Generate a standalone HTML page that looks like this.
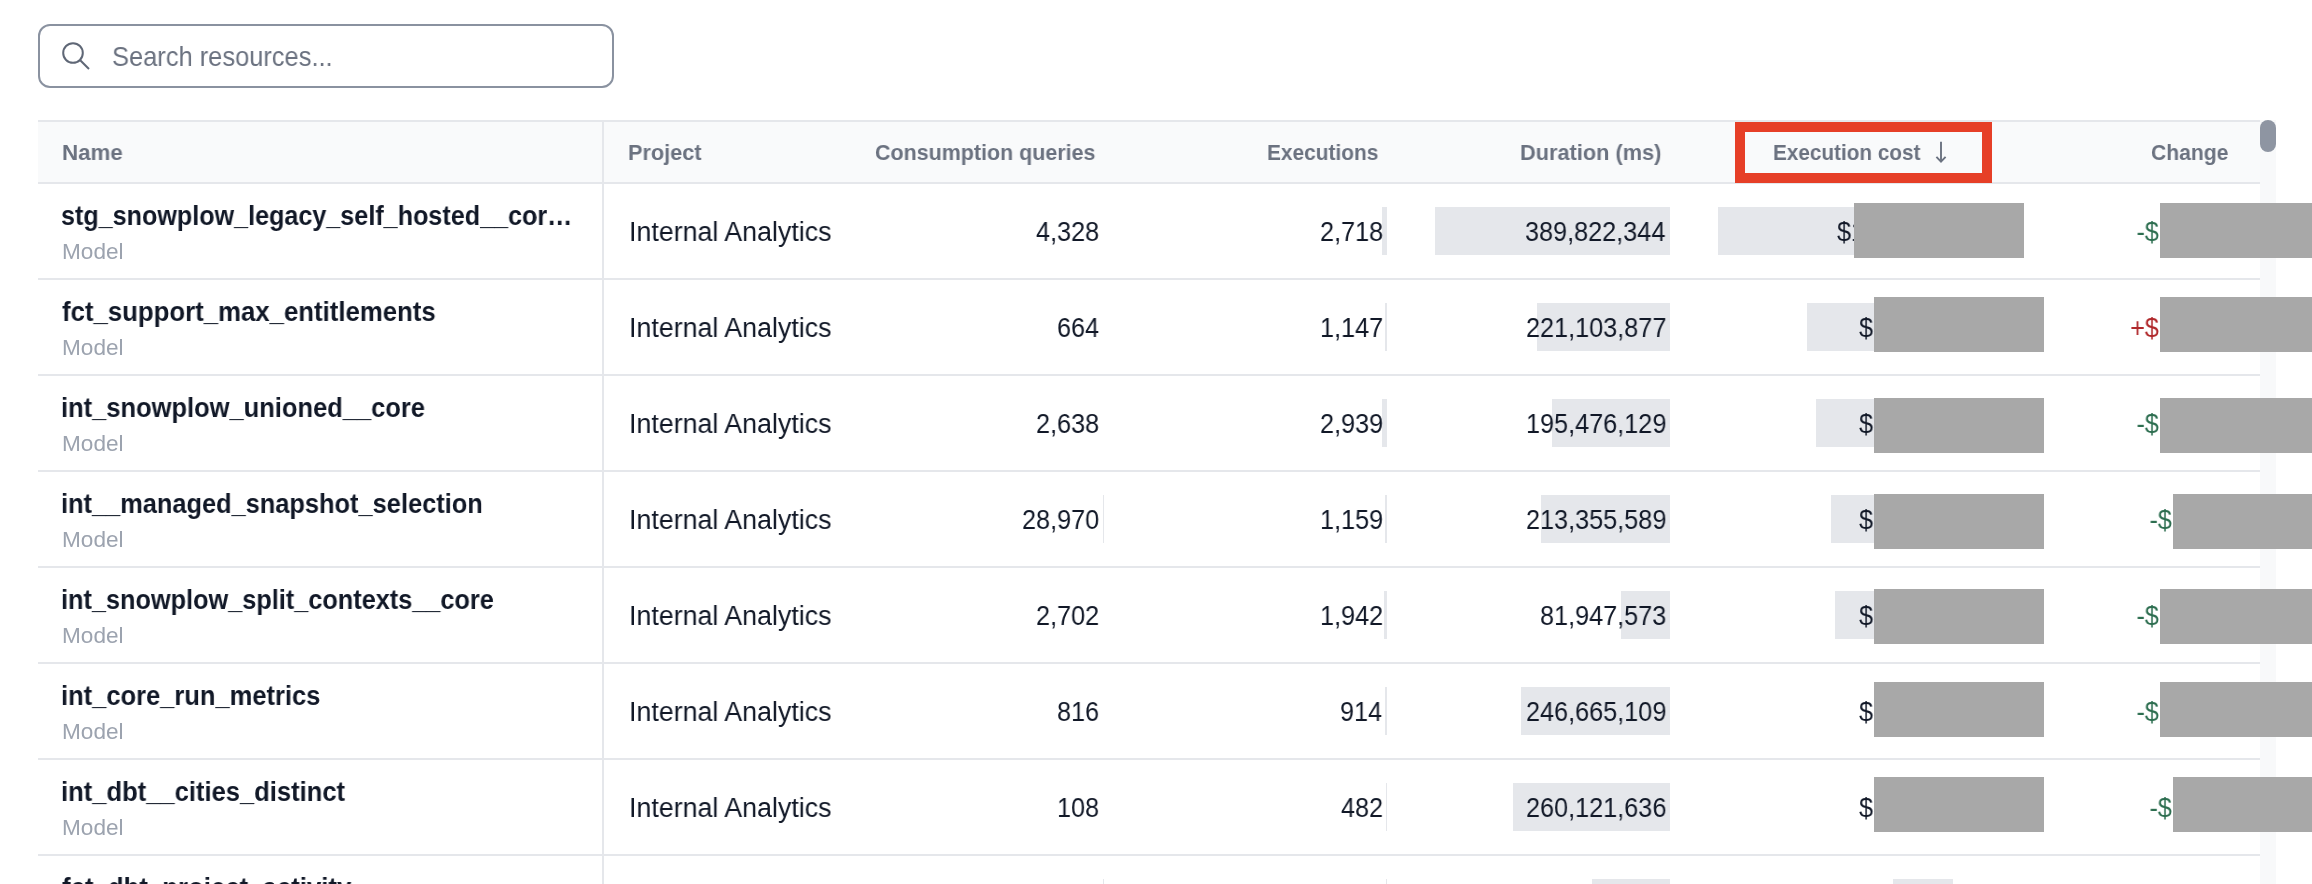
<!DOCTYPE html>
<html><head><meta charset="utf-8"><style>
html,body{margin:0;padding:0;}
body{width:2312px;height:884px;overflow:hidden;position:relative;background:#fff;font-family:"Liberation Sans",sans-serif;}
.t{position:absolute;white-space:nowrap;will-change:transform;}
.r{position:absolute;}
</style></head><body>
<div class="r" style="left:38px;top:24px;width:572px;height:60px;border:2px solid #8a92a0;border-radius:12px;background:#fff"></div>
<svg class="r" style="left:0;top:0" width="200" height="100"><circle cx="73" cy="53" r="9.8" fill="none" stroke="#5f6776" stroke-width="2"/><line x1="80.2" y1="60.2" x2="89" y2="69" stroke="#5f6776" stroke-width="2"/></svg>
<div class="r" style="left:38px;top:120px;width:2222px;height:64px;background:#f9fafb;"></div>
<div class="r" style="left:38px;top:120px;width:2222px;height:2px;background:#e5e7eb;"></div>
<div class="r" style="left:38px;top:182px;width:2222px;height:2px;background:#e5e7eb;"></div>
<div class="r" style="left:38px;top:278px;width:2222px;height:2px;background:#e5e7eb;"></div>
<div class="r" style="left:1435px;top:207px;width:235px;height:48px;background:#e5e7eb;"></div>
<div class="r" style="left:1718px;top:207px;width:235px;height:48px;background:#e5e7eb;"></div>
<div class="r" style="left:1382px;top:207px;width:5px;height:48px;background:#e5e7eb;"></div>
<div class="r" style="left:38px;top:374px;width:2222px;height:2px;background:#e5e7eb;"></div>
<div class="r" style="left:1537px;top:303px;width:133px;height:48px;background:#e5e7eb;"></div>
<div class="r" style="left:1807px;top:303px;width:146px;height:48px;background:#e5e7eb;"></div>
<div class="r" style="left:1385px;top:303px;width:2px;height:48px;background:#e5e7eb;"></div>
<div class="r" style="left:38px;top:470px;width:2222px;height:2px;background:#e5e7eb;"></div>
<div class="r" style="left:1552px;top:399px;width:118px;height:48px;background:#e5e7eb;"></div>
<div class="r" style="left:1816px;top:399px;width:137px;height:48px;background:#e5e7eb;"></div>
<div class="r" style="left:1382px;top:399px;width:5px;height:48px;background:#e5e7eb;"></div>
<div class="r" style="left:38px;top:566px;width:2222px;height:2px;background:#e5e7eb;"></div>
<div class="r" style="left:1541px;top:495px;width:129px;height:48px;background:#e5e7eb;"></div>
<div class="r" style="left:1831px;top:495px;width:122px;height:48px;background:#e5e7eb;"></div>
<div class="r" style="left:1385px;top:495px;width:2px;height:48px;background:#e5e7eb;"></div>
<div class="r" style="left:1103px;top:495px;width:1px;height:48px;background:#e5e7eb;"></div>
<div class="r" style="left:38px;top:662px;width:2222px;height:2px;background:#e5e7eb;"></div>
<div class="r" style="left:1621px;top:591px;width:49px;height:48px;background:#e5e7eb;"></div>
<div class="r" style="left:1835px;top:591px;width:118px;height:48px;background:#e5e7eb;"></div>
<div class="r" style="left:1384px;top:591px;width:3px;height:48px;background:#e5e7eb;"></div>
<div class="r" style="left:38px;top:758px;width:2222px;height:2px;background:#e5e7eb;"></div>
<div class="r" style="left:1521px;top:687px;width:149px;height:48px;background:#e5e7eb;"></div>
<div class="r" style="left:1893px;top:687px;width:60px;height:48px;background:#e5e7eb;"></div>
<div class="r" style="left:1385px;top:687px;width:2px;height:48px;background:#e5e7eb;"></div>
<div class="r" style="left:38px;top:854px;width:2222px;height:2px;background:#e5e7eb;"></div>
<div class="r" style="left:1513px;top:783px;width:157px;height:48px;background:#e5e7eb;"></div>
<div class="r" style="left:1893px;top:783px;width:60px;height:48px;background:#e5e7eb;"></div>
<div class="r" style="left:1386px;top:783px;width:1px;height:48px;background:#e5e7eb;"></div>
<div class="r" style="left:38px;top:950px;width:2222px;height:2px;background:#e5e7eb;"></div>
<div class="r" style="left:1592px;top:879px;width:78px;height:48px;background:#e5e7eb;"></div>
<div class="r" style="left:1893px;top:879px;width:60px;height:48px;background:#e5e7eb;"></div>
<div class="r" style="left:1386px;top:879px;width:1px;height:48px;background:#e5e7eb;"></div>
<div class="r" style="left:1103px;top:879px;width:1px;height:48px;background:#e5e7eb;"></div>
<div class="r" style="left:602px;top:120px;width:2px;height:764px;background:#e5e7eb;"></div>
<div class="r" style="left:2260px;top:120px;width:16px;height:764px;background:#f8f9fa;"></div>
<div class="r" style="left:2260px;top:120px;width:16px;height:32px;border-radius:8px;background:#8e95a2"></div>
<svg class="r" style="left:1930px;top:140px" width="24" height="26"><line x1="11" y1="1.8" x2="11" y2="21.6" stroke="#6b7280" stroke-width="1.9"/><polyline points="6.4,16.8 11,21.6 15.6,16.8" fill="none" stroke="#6b7280" stroke-width="1.9"/></svg>
<div class="t" id="t0" style="top:42.79px;font-size:28px;line-height:28px;color:#6b7280;left:111.71px;transform:scaleX(0.9088);transform-origin:0 0;">Search resources...</div>
<div class="t" id="t1" style="top:141.65px;font-size:22.5px;line-height:22.5px;color:#6b7280;font-weight:700;left:62.21px;transform:scaleX(0.9915);transform-origin:0 0;">Name</div>
<div class="t" id="t2" style="top:141.65px;font-size:22.5px;line-height:22.5px;color:#6b7280;font-weight:700;left:628.24px;transform:scaleX(0.9640);transform-origin:0 0;">Project</div>
<div class="t" id="t3" style="top:141.65px;font-size:22.5px;line-height:22.5px;color:#6b7280;font-weight:700;left:875.05px;transform:scaleX(0.9530);transform-origin:0 0;">Consumption queries</div>
<div class="t" id="t4" style="top:141.65px;font-size:22.5px;line-height:22.5px;color:#6b7280;font-weight:700;left:1267.11px;transform:scaleX(0.9280);transform-origin:0 0;">Executions</div>
<div class="t" id="t5" style="top:141.65px;font-size:22.5px;line-height:22.5px;color:#6b7280;font-weight:700;left:1520.05px;transform:scaleX(0.9667);transform-origin:0 0;">Duration (ms)</div>
<div class="t" id="t6" style="top:141.65px;font-size:22.5px;line-height:22.5px;color:#6b7280;font-weight:700;left:1772.69px;transform:scaleX(0.9214);transform-origin:0 0;">Execution cost</div>
<div class="t" id="t7" style="top:141.65px;font-size:22.5px;line-height:22.5px;color:#6b7280;font-weight:700;left:2151.03px;transform:scaleX(0.9383);transform-origin:0 0;">Change</div>
<div class="t" id="t8" style="top:202.84px;font-size:27px;line-height:27px;color:#111827;font-weight:700;left:61.48px;transform:scaleX(0.9308);transform-origin:0 0;">stg_snowplow_legacy_self_hosted__cor…</div>
<div class="t" id="t9" style="top:241.05px;font-size:22.5px;line-height:22.5px;color:#9ca3af;left:62.19px;transform:scaleX(1.0051);transform-origin:0 0;">Model</div>
<div class="t" id="t10" style="top:219.04px;font-size:27px;line-height:27px;color:#111827;left:628.61px;transform:scaleX(0.9926);transform-origin:0 0;">Internal Analytics</div>
<div class="t" id="t11" style="top:219.04px;font-size:27px;line-height:27px;color:#111827;left:1035.98px;transform:scaleX(0.9350);transform-origin:0 0;">4,328</div>
<div class="t" id="t12" style="top:219.04px;font-size:27px;line-height:27px;color:#111827;left:1319.75px;transform:scaleX(0.9350);transform-origin:0 0;">2,718</div>
<div class="t" id="t13" style="top:219.04px;font-size:27px;line-height:27px;color:#111827;left:1524.60px;transform:scaleX(0.9350);transform-origin:0 0;">389,822,344</div>
<div class="t" id="t14" style="top:298.84px;font-size:27px;line-height:27px;color:#111827;font-weight:700;left:62.40px;transform:scaleX(0.9545);transform-origin:0 0;">fct_support_max_entitlements</div>
<div class="t" id="t15" style="top:337.05px;font-size:22.5px;line-height:22.5px;color:#9ca3af;left:62.19px;transform:scaleX(1.0051);transform-origin:0 0;">Model</div>
<div class="t" id="t16" style="top:315.04px;font-size:27px;line-height:27px;color:#111827;left:628.61px;transform:scaleX(0.9926);transform-origin:0 0;">Internal Analytics</div>
<div class="t" id="t17" style="top:315.04px;font-size:27px;line-height:27px;color:#111827;left:1057.04px;transform:scaleX(0.9350);transform-origin:0 0;">664</div>
<div class="t" id="t18" style="top:315.04px;font-size:27px;line-height:27px;color:#111827;left:1319.75px;transform:scaleX(0.9350);transform-origin:0 0;">1,147</div>
<div class="t" id="t19" style="top:315.04px;font-size:27px;line-height:27px;color:#111827;left:1525.54px;transform:scaleX(0.9350);transform-origin:0 0;">221,103,877</div>
<div class="t" id="t20" style="top:394.84px;font-size:27px;line-height:27px;color:#111827;font-weight:700;left:61.46px;transform:scaleX(0.9440);transform-origin:0 0;">int_snowplow_unioned__core</div>
<div class="t" id="t21" style="top:433.05px;font-size:22.5px;line-height:22.5px;color:#9ca3af;left:62.19px;transform:scaleX(1.0051);transform-origin:0 0;">Model</div>
<div class="t" id="t22" style="top:411.04px;font-size:27px;line-height:27px;color:#111827;left:628.61px;transform:scaleX(0.9926);transform-origin:0 0;">Internal Analytics</div>
<div class="t" id="t23" style="top:411.04px;font-size:27px;line-height:27px;color:#111827;left:1035.98px;transform:scaleX(0.9350);transform-origin:0 0;">2,638</div>
<div class="t" id="t24" style="top:411.04px;font-size:27px;line-height:27px;color:#111827;left:1319.75px;transform:scaleX(0.9350);transform-origin:0 0;">2,939</div>
<div class="t" id="t25" style="top:411.04px;font-size:27px;line-height:27px;color:#111827;left:1525.54px;transform:scaleX(0.9350);transform-origin:0 0;">195,476,129</div>
<div class="t" id="t26" style="top:490.84px;font-size:27px;line-height:27px;color:#111827;font-weight:700;left:61.47px;transform:scaleX(0.9399);transform-origin:0 0;">int__managed_snapshot_selection</div>
<div class="t" id="t27" style="top:529.05px;font-size:22.5px;line-height:22.5px;color:#9ca3af;left:62.19px;transform:scaleX(1.0051);transform-origin:0 0;">Model</div>
<div class="t" id="t28" style="top:507.04px;font-size:27px;line-height:27px;color:#111827;left:628.61px;transform:scaleX(0.9926);transform-origin:0 0;">Internal Analytics</div>
<div class="t" id="t29" style="top:507.04px;font-size:27px;line-height:27px;color:#111827;left:1021.94px;transform:scaleX(0.9350);transform-origin:0 0;">28,970</div>
<div class="t" id="t30" style="top:507.04px;font-size:27px;line-height:27px;color:#111827;left:1319.75px;transform:scaleX(0.9350);transform-origin:0 0;">1,159</div>
<div class="t" id="t31" style="top:507.04px;font-size:27px;line-height:27px;color:#111827;left:1525.54px;transform:scaleX(0.9350);transform-origin:0 0;">213,355,589</div>
<div class="t" id="t32" style="top:586.84px;font-size:27px;line-height:27px;color:#111827;font-weight:700;left:61.47px;transform:scaleX(0.9367);transform-origin:0 0;">int_snowplow_split_contexts__core</div>
<div class="t" id="t33" style="top:625.05px;font-size:22.5px;line-height:22.5px;color:#9ca3af;left:62.19px;transform:scaleX(1.0051);transform-origin:0 0;">Model</div>
<div class="t" id="t34" style="top:603.04px;font-size:27px;line-height:27px;color:#111827;left:628.61px;transform:scaleX(0.9926);transform-origin:0 0;">Internal Analytics</div>
<div class="t" id="t35" style="top:603.04px;font-size:27px;line-height:27px;color:#111827;left:1035.98px;transform:scaleX(0.9350);transform-origin:0 0;">2,702</div>
<div class="t" id="t36" style="top:603.04px;font-size:27px;line-height:27px;color:#111827;left:1319.75px;transform:scaleX(0.9350);transform-origin:0 0;">1,942</div>
<div class="t" id="t37" style="top:603.04px;font-size:27px;line-height:27px;color:#111827;left:1539.58px;transform:scaleX(0.9350);transform-origin:0 0;">81,947,573</div>
<div class="t" id="t38" style="top:682.84px;font-size:27px;line-height:27px;color:#111827;font-weight:700;left:61.46px;transform:scaleX(0.9447);transform-origin:0 0;">int_core_run_metrics</div>
<div class="t" id="t39" style="top:721.05px;font-size:22.5px;line-height:22.5px;color:#9ca3af;left:62.19px;transform:scaleX(1.0051);transform-origin:0 0;">Model</div>
<div class="t" id="t40" style="top:699.04px;font-size:27px;line-height:27px;color:#111827;left:628.61px;transform:scaleX(0.9926);transform-origin:0 0;">Internal Analytics</div>
<div class="t" id="t41" style="top:699.04px;font-size:27px;line-height:27px;color:#111827;left:1057.04px;transform:scaleX(0.9350);transform-origin:0 0;">816</div>
<div class="t" id="t42" style="top:699.04px;font-size:27px;line-height:27px;color:#111827;left:1339.87px;transform:scaleX(0.9350);transform-origin:0 0;">914</div>
<div class="t" id="t43" style="top:699.04px;font-size:27px;line-height:27px;color:#111827;left:1525.54px;transform:scaleX(0.9350);transform-origin:0 0;">246,665,109</div>
<div class="t" id="t44" style="top:778.84px;font-size:27px;line-height:27px;color:#111827;font-weight:700;left:61.46px;transform:scaleX(0.9468);transform-origin:0 0;">int_dbt__cities_distinct</div>
<div class="t" id="t45" style="top:817.05px;font-size:22.5px;line-height:22.5px;color:#9ca3af;left:62.19px;transform:scaleX(1.0051);transform-origin:0 0;">Model</div>
<div class="t" id="t46" style="top:795.04px;font-size:27px;line-height:27px;color:#111827;left:628.61px;transform:scaleX(0.9926);transform-origin:0 0;">Internal Analytics</div>
<div class="t" id="t47" style="top:795.04px;font-size:27px;line-height:27px;color:#111827;left:1057.04px;transform:scaleX(0.9350);transform-origin:0 0;">108</div>
<div class="t" id="t48" style="top:795.04px;font-size:27px;line-height:27px;color:#111827;left:1340.80px;transform:scaleX(0.9350);transform-origin:0 0;">482</div>
<div class="t" id="t49" style="top:795.04px;font-size:27px;line-height:27px;color:#111827;left:1525.54px;transform:scaleX(0.9350);transform-origin:0 0;">260,121,636</div>
<div class="t" id="t50" style="top:874.84px;font-size:27px;line-height:27px;color:#111827;font-weight:700;left:62.40px;transform:scaleX(0.9548);transform-origin:0 0;">fct_dbt_project_activity</div>
<div class="t" id="t51" style="top:913.05px;font-size:22.5px;line-height:22.5px;color:#9ca3af;left:62.19px;transform:scaleX(1.0051);transform-origin:0 0;">Model</div>
<div class="t" id="t52" style="top:891.04px;font-size:27px;line-height:27px;color:#111827;left:628.61px;transform:scaleX(0.9926);transform-origin:0 0;">Internal Analytics</div>
<div class="t" id="t53" style="top:891.04px;font-size:27px;line-height:27px;color:#111827;left:1035.98px;transform:scaleX(0.9350);transform-origin:0 0;">1,204</div>
<div class="t" id="t54" style="top:891.04px;font-size:27px;line-height:27px;color:#111827;left:1340.80px;transform:scaleX(0.9350);transform-origin:0 0;">388</div>
<div class="t" id="t55" style="top:891.04px;font-size:27px;line-height:27px;color:#111827;left:1525.54px;transform:scaleX(0.9350);transform-origin:0 0;">129,338,101</div>
<div class="t" style="left:1836.5px;top:218.20px;font-size:28px;line-height:28px;color:#111827;transform:scaleX(0.90);transform-origin:0 0">$1,234</div>
<div class="t" style="right:153px;top:218.20px;font-size:28px;line-height:28px;color:#2d6e50;transform:scaleX(0.90);transform-origin:100% 0">-$</div>
<div class="t" style="left:1858.5px;top:314.20px;font-size:28px;line-height:28px;color:#111827;transform:scaleX(0.90);transform-origin:0 0">$1,234</div>
<div class="t" style="right:153px;top:314.20px;font-size:28px;line-height:28px;color:#b0282b;transform:scaleX(0.90);transform-origin:100% 0">+$</div>
<div class="t" style="left:1858.5px;top:410.20px;font-size:28px;line-height:28px;color:#111827;transform:scaleX(0.90);transform-origin:0 0">$1,234</div>
<div class="t" style="right:153px;top:410.20px;font-size:28px;line-height:28px;color:#2d6e50;transform:scaleX(0.90);transform-origin:100% 0">-$</div>
<div class="t" style="left:1858.5px;top:506.20px;font-size:28px;line-height:28px;color:#111827;transform:scaleX(0.90);transform-origin:0 0">$1,234</div>
<div class="t" style="right:140px;top:506.20px;font-size:28px;line-height:28px;color:#2d6e50;transform:scaleX(0.90);transform-origin:100% 0">-$</div>
<div class="t" style="left:1858.5px;top:602.20px;font-size:28px;line-height:28px;color:#111827;transform:scaleX(0.90);transform-origin:0 0">$1,234</div>
<div class="t" style="right:153px;top:602.20px;font-size:28px;line-height:28px;color:#2d6e50;transform:scaleX(0.90);transform-origin:100% 0">-$</div>
<div class="t" style="left:1858.5px;top:698.20px;font-size:28px;line-height:28px;color:#111827;transform:scaleX(0.90);transform-origin:0 0">$1,234</div>
<div class="t" style="right:153px;top:698.20px;font-size:28px;line-height:28px;color:#2d6e50;transform:scaleX(0.90);transform-origin:100% 0">-$</div>
<div class="t" style="left:1858.5px;top:794.20px;font-size:28px;line-height:28px;color:#111827;transform:scaleX(0.90);transform-origin:0 0">$1,234</div>
<div class="t" style="right:140px;top:794.20px;font-size:28px;line-height:28px;color:#2d6e50;transform:scaleX(0.90);transform-origin:100% 0">-$</div>
<div class="t" style="left:1858.5px;top:890.20px;font-size:28px;line-height:28px;color:#111827;transform:scaleX(0.90);transform-origin:0 0">$1,234</div>
<div class="t" style="right:140px;top:890.20px;font-size:28px;line-height:28px;color:#2d6e50;transform:scaleX(0.90);transform-origin:100% 0">-$</div>
<div class="r" style="left:1854px;top:203px;width:170px;height:55px;background:#a8a8a8;"></div>
<div class="r" style="left:1874px;top:297px;width:170px;height:55px;background:#a8a8a8;"></div>
<div class="r" style="left:1874px;top:398px;width:170px;height:55px;background:#a8a8a8;"></div>
<div class="r" style="left:1874px;top:494px;width:170px;height:55px;background:#a8a8a8;"></div>
<div class="r" style="left:1874px;top:589px;width:170px;height:55px;background:#a8a8a8;"></div>
<div class="r" style="left:1874px;top:682px;width:170px;height:55px;background:#a8a8a8;"></div>
<div class="r" style="left:1874px;top:777px;width:170px;height:55px;background:#a8a8a8;"></div>
<div class="r" style="left:2160px;top:203px;width:152px;height:55px;background:#a8a8a8;"></div>
<div class="r" style="left:2160px;top:297px;width:152px;height:55px;background:#a8a8a8;"></div>
<div class="r" style="left:2160px;top:398px;width:152px;height:55px;background:#a8a8a8;"></div>
<div class="r" style="left:2173px;top:494px;width:139px;height:55px;background:#a8a8a8;"></div>
<div class="r" style="left:2160px;top:589px;width:152px;height:55px;background:#a8a8a8;"></div>
<div class="r" style="left:2160px;top:682px;width:152px;height:55px;background:#a8a8a8;"></div>
<div class="r" style="left:2173px;top:777px;width:139px;height:55px;background:#a8a8a8;"></div>
<div class="r" style="left:1735px;top:122px;width:237px;height:41px;border:10px solid #e63f27"></div>
</body></html>
